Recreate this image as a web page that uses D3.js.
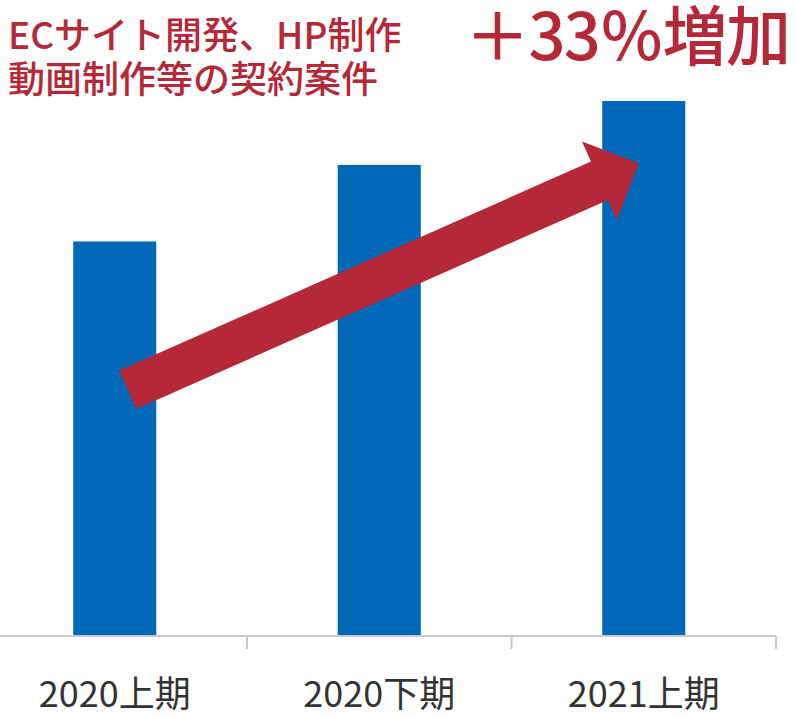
<!DOCTYPE html>
<html><head><meta charset="utf-8">
<script src="https://cdn.jsdelivr.net/npm/d3@7"></script>
<style>html,body{margin:0;padding:0;background:#fff;}svg{display:block;}</style>
</head><body>
<script>
const categories = ["2020上期", "2020下期", "2021上期"];
const values = [100, 119.4, 135.6];
const titleLines = ["ECサイト開発、HP制作", "動画制作等の契約案件"];
const highlight = "＋33％増加";

const W = 796, H = 717;
const blue = "#0068b7", red = "#b52838";
const font = "'Noto Sans CJK JP','Noto Sans',sans-serif";

const svg = d3.select("body").append("svg").attr("width", W).attr("height", H);

const x = d3.scaleBand().domain(categories).range([-17.5, 776]).padding(0);
const y = d3.scaleLinear().domain([0, 161.2]).range([636, 0]);
const barW = x.bandwidth() * 0.314;

// bars
svg.selectAll("rect.bar").data(values).join("rect")
  .attr("class", "bar")
  .attr("x", (d, i) => x(categories[i]) + (x.bandwidth() - barW) / 2)
  .attr("width", barW)
  .attr("y", d => y(d))
  .attr("height", d => y(0) - y(d))
  .attr("fill", blue);

// axis baseline and category separators
const gx = svg.append("g").attr("transform", `translate(0,${y(0)})`);
gx.append("line").attr("x1", 0).attr("x2", 776).attr("y1", 0).attr("y2", 0)
  .attr("stroke", "#c8c8c8").attr("stroke-width", 2);
const edges = categories.map(c => x(c) + x.bandwidth());
gx.selectAll("line.tk").data(edges).join("line").attr("class", "tk")
  .attr("x1", d => d).attr("x2", d => d).attr("y1", 0).attr("y2", 13)
  .attr("stroke", "#c8c8c8").attr("stroke-width", 2);

// category labels
svg.selectAll("text.cat").data(categories).join("text")
  .attr("class", "cat")
  .attr("x", d => x(d) + x.bandwidth() / 2)
  .attr("y", 707)
  .attr("text-anchor", "middle")
  .attr("font-family", font).attr("font-size", 36).attr("fill", "#333")
  .text(d => d);

// arrow annotation (anchored to scales)
const cx = i => x(categories[i]) + x.bandwidth() / 2;
const start = [cx(0) + 13, y(62.4)];
const end = [cx(2) - 5, y(119.8)];
const dx = end[0] - start[0], dy = end[1] - start[1];
const L = Math.hypot(dx, dy), ang = Math.atan2(dy, dx) * 180 / Math.PI;
const sw = 21, hl = 43, hw = 43;
const pts = [[0, -sw], [L - hl, -sw], [L - hl, -hw], [L, 0], [L - hl, hw], [L - hl, sw], [0, sw]];
svg.append("path")
  .attr("d", d3.line()(pts) + "Z")
  .attr("transform", `translate(${start[0]},${start[1]}) rotate(${ang})`)
  .attr("fill", red);

// title
svg.selectAll("text.title").data(titleLines).join("text")
  .attr("class", "title")
  .attr("x", 8).attr("y", (d, i) => 49 + i * 44)
  .attr("font-family", font).attr("font-size", 37).attr("font-weight", 500)
  .attr("fill", red).text(d => d);

svg.append("text")
  .attr("x", 465).attr("y", 60)
  .attr("font-family", font).attr("font-size", 65).attr("font-weight", 500)
  .attr("fill", red)
  .attr("textLength", 326).attr("lengthAdjust", "spacing")
  .text(highlight);
</script>
</body></html>
